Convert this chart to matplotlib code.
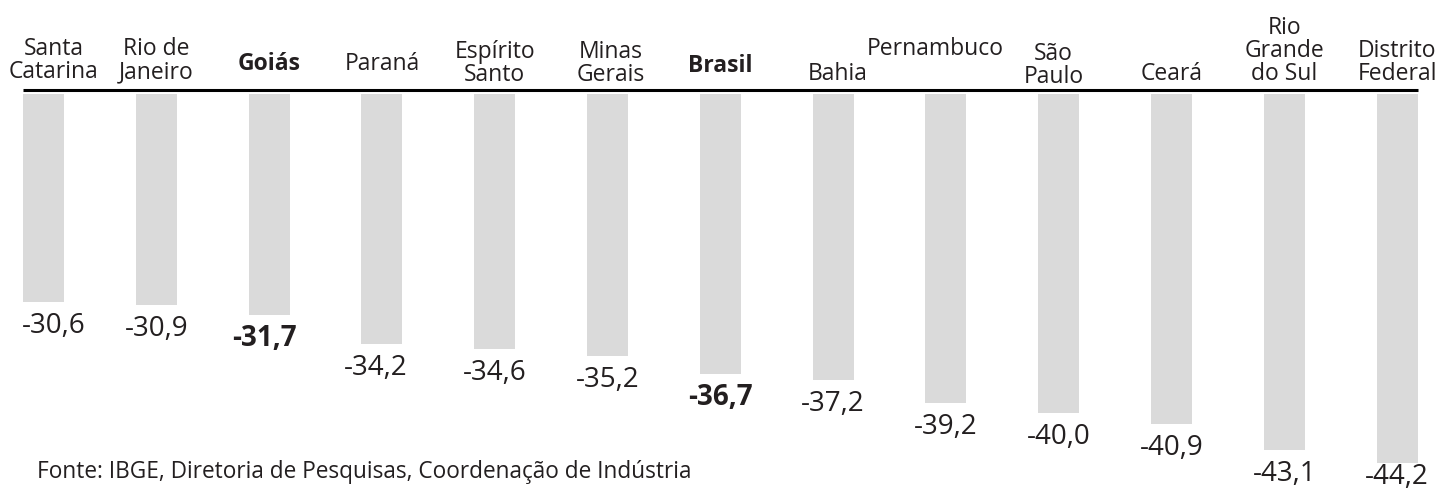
import matplotlib.pyplot as plt

plt.rcParams["font.family"] = ["Open Sans", "DejaVu Sans"]

# data
states = [
    "Santa\nCatarina", "Rio de\nJaneiro", "Goiás", "Paraná", "Espírito\nSanto",
    "Minas\nGerais", "Brasil", "Bahia", "Pernambuco", "São\nPaulo", "Ceará",
    "Rio\nGrande\ndo Sul", "Distrito\nFederal",
]
values = [-30.6, -30.9, -31.7, -34.2, -34.6, -35.2, -36.7, -37.2, -39.2, -40.0, -40.9, -43.1, -44.2]
value_labels = ["-30,6", "-30,9", "-31,7", "-34,2", "-34,6", "-35,2", "-36,7",
                "-37,2", "-39,2", "-40,0", "-40,9", "-43,1", "-44,2"]
bold = {"Goiás", "Brasil"}
source = "Fonte: IBGE, Diretoria de Pesquisas, Coordenação de Indústria"

# label nudges in pixels (dx, dy) relative to the default spot
label_nudge = {
    "Santa\nCatarina": (10, 2), "Rio de\nJaneiro": (0, 2), "Goiás": (0, 10),
    "Paraná": (0, 10), "Espírito\nSanto": (0, -1), "Minas\nGerais": (3, -1),
    "Brasil": (0, 8), "Bahia": (5, 0), "Pernambuco": (-11, 25),
    "São\nPaulo": (-5, -3),
}
value_nudge = {"-30,6": (10, 0), "-31,7": (-5, 0), "-34,2": (-6, 0), "-44,2": (0, 10)}

BASE = -13.07    # where bars start (just under the rule)
LINE_Y = -12.73  # horizontal rule
BAR_W = 0.363
BAR_COLOR = "#dadada"
TEXT_COLOR = "#231f20"

fig = plt.figure(figsize=(14.4, 4.9), dpi=100)
ax = fig.add_axes([0, 0, 1, 1])
ax.set_xlim(-0.386, 12.38)
ax.set_ylim(-46.51, -5.13)
ax.axis("off")

x = list(range(len(states)))
heights = [v - BASE for v in values]
ax.bar(x, heights, bottom=BASE, width=BAR_W, color=BAR_COLOR, linewidth=0)
ax.hlines(LINE_Y, -BAR_W / 2, len(states) - 1 + BAR_W / 2, color="black", linewidth=2.2)

for i, (name, v, lab) in enumerate(zip(states, values, value_labels)):
    dx, dy = label_nudge.get(name, (0, 0))
    weight = "bold" if name in bold else "normal"
    ax.annotate(name, xy=(i, LINE_Y), xytext=(dx, 10 + dy), textcoords="offset pixels",
                ha="center", va="baseline", fontsize=16.5, linespacing=0.95,
                color=TEXT_COLOR, fontweight=weight)
    vx, vy = value_nudge.get(lab, (0, 0))
    ax.annotate(lab, xy=(i, v), xytext=(vx, -31 + vy), textcoords="offset pixels",
                ha="center", va="baseline", fontsize=20, color=TEXT_COLOR,
                fontweight=weight, annotation_clip=False)

fig.text(37 / 1440, 1 - 478 / 490, source, ha="left", va="baseline", fontsize=16.3, color=TEXT_COLOR)

fig.savefig("out.png", dpi=100)
